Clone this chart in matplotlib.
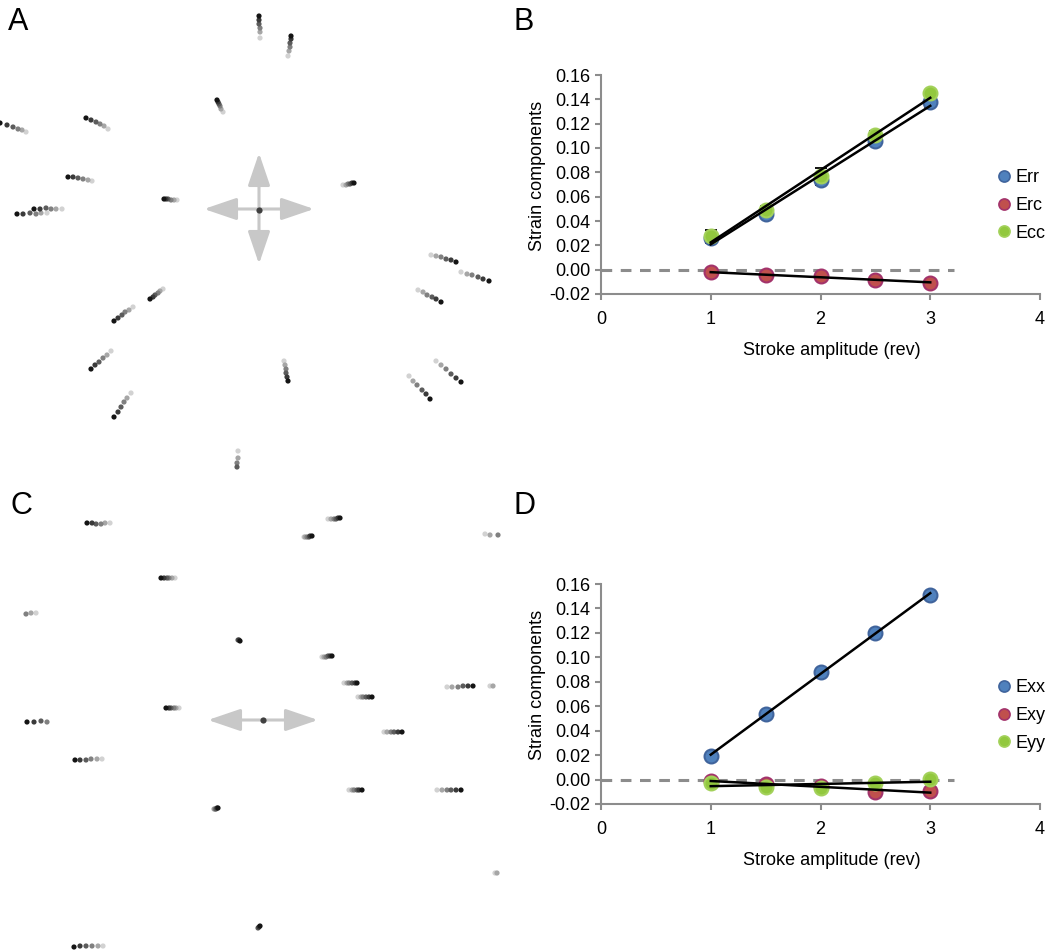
import matplotlib
matplotlib.use('Agg')
import matplotlib.pyplot as plt
import numpy as np
from matplotlib.lines import Line2D
from matplotlib.patches import FancyArrowPatch

plt.rcParams['font.family'] = ['Liberation Sans', 'DejaVu Sans']

# ---- panel B / D data ----
amp = [1.0, 1.5, 2.0, 2.5, 3.0]

err_b = [0.026, 0.0454, 0.0733, 0.106, 0.138]
erc_b = [-0.0022, -0.0047, -0.0052, -0.0082, -0.0109]
ecc_b = [0.0276, 0.0487, 0.0769, 0.111, 0.145]
err_b_sd = [0.004, 0.003, 0.004, 0.003, 0.0045]
ecc_b_sd = [0.005, 0.004, 0.007, 0.003, 0.003]

exx_d = [0.0191, 0.0535, 0.0884, 0.1203, 0.1509]
exy_d = [-0.0008, -0.004, -0.005, -0.0104, -0.0095]
eyy_d = [-0.0027, -0.0057, -0.0071, -0.003, 0.0005]

labels_b = ['Err', 'Erc', 'Ecc']
labels_d = ['Exx', 'Exy', 'Eyy']

# bead tracks (image pixels), darkest dot first
tracks_a = [
    ([259, 259, 259, 260, 260, 260], [16, 20, 24, 28, 32, 38]),
    ([291, 291, 290, 290, 289, 288], [36, 39, 43, 47, 51, 56]),
    ([217, 218, 219, 220, 221, 223], [100, 102, 104, 106, 109, 112]),
    ([0, 7, 13, 18, 22, 26], [123, 125, 127, 129, 130, 132]),
    ([86, 91, 96, 100, 104, 108], [118, 120, 122, 124, 126, 129]),
    ([68, 73, 78, 83, 88, 92], [177, 177, 178, 179, 180, 181]),
    ([17, 23, 30, 36, 41, 47], [214, 214, 213, 214, 213, 213]),
    ([34, 40, 46, 51, 56, 62], [209, 209, 208, 209, 209, 209]),
    ([164, 166, 168, 171, 174, 177], [199, 199, 199, 200, 200, 200]),
    ([354, 352, 350, 348, 346, 343], [183, 183, 184, 184, 185, 185]),
    ([456, 451, 446, 441, 436, 431], [262, 260, 259, 257, 256, 255]),
    ([489, 483, 478, 472, 467, 461], [281, 279, 277, 275, 274, 272]),
    ([441, 436, 432, 427, 423, 418], [302, 299, 297, 295, 292, 290]),
    ([150, 153, 155, 158, 160, 163], [299, 297, 295, 293, 291, 289]),
    ([114, 118, 122, 125, 129, 133], [321, 318, 315, 312, 310, 307]),
    ([91, 95, 99, 103, 107, 111], [369, 365, 362, 358, 355, 351]),
    ([114, 118, 121, 124, 127, 131], [417, 412, 407, 402, 398, 393]),
    ([288, 287, 286, 286, 285, 284], [381, 377, 373, 369, 365, 361]),
    ([461, 456, 451, 446, 441, 436], [382, 378, 374, 369, 365, 361]),
    ([430, 426, 422, 417, 413, 409], [399, 394, 390, 385, 381, 376]),
    ([237, 237, 238, 238], [467, 463, 458, 451]),
]
tracks_c = [
    ([87, 92, 96, 101, 105, 110], [523, 523, 524, 524, 523, 523]),
    ([340, 338, 336, 334, 331, 328], [518, 518, 519, 519, 519, 519]),
    ([312, 310, 309, 307, 305, 304], [536, 536, 537, 537, 537, 537]),
    ([498, 490, 485], [535, 535, 534]),
    ([161, 164, 167, 169, 172, 175], [578, 578, 578, 578, 578, 578]),
    ([26, 31, 36], [614, 613, 613]),
    ([240, 239, 238], [641, 640, 640]),
    ([332, 330, 328, 326, 324, 322], [656, 656, 656, 657, 657, 657]),
    ([357, 355, 352, 349, 347, 344], [683, 683, 683, 683, 683, 683]),
    ([372, 369, 366, 363, 361, 358], [697, 697, 697, 697, 697, 697]),
    ([473, 468, 463, 458, 452, 447], [686, 686, 686, 687, 687, 687]),
    ([493, 490], [686, 686]),
    ([166, 169, 171, 174, 176, 179], [708, 708, 708, 708, 708, 708]),
    ([27, 34, 41, 47], [722, 722, 721, 722]),
    ([402, 398, 394, 391, 387, 384], [732, 732, 732, 732, 732, 732]),
    ([75, 80, 86, 91, 97, 102], [760, 760, 760, 759, 759, 759]),
    ([362, 359, 357, 354, 352, 349], [790, 790, 790, 790, 790, 790]),
    ([461, 456, 451, 447, 442, 437], [790, 790, 790, 790, 790, 790]),
    ([218, 217, 216, 215, 214], [808, 808, 809, 809, 809]),
    ([497, 495], [873, 873]),
    ([260, 259, 258], [926, 927, 928]),
    ([74, 80, 86, 92, 98, 103], [947, 946, 946, 946, 946, 946]),
]
shades = ['#141414', '#3a3a3a', '#5c5c5c', '#808080', '#a6a6a6', '#d2d2d2']
light_tracks = {(0, 20), (1, 3), (1, 5), (1, 11), (1, 19)}

fig = plt.figure(figsize=(10.5, 9.5), dpi=100)

# ---- panels A and C: bead displacement tracks ----
img = fig.add_axes([0, 0, 520 / 1050, 1])
img.set_xlim(0, 520)
img.set_ylim(950, 0)
img.axis('off')

for p, trks in enumerate([tracks_a, tracks_c]):
    for k, (xs, ys) in enumerate(trks):
        n = len(xs)
        cols = shades[-n:] if (p, k) in light_tracks else shades[:n]
        # lightest drawn first so the dark end sits on top
        img.scatter(xs[::-1], ys[::-1], s=14, c=cols[::-1], linewidths=0, zorder=3)

arrow_col = '#c8c8c8'
style = '<|-|>,head_length=1.0,head_width=0.34'
for (x0, y0, x1, y1) in [(204, 209, 314, 209), (259, 153, 259, 264),
                         (208, 720, 318, 720)]:
    img.add_patch(FancyArrowPatch((x0, y0), (x1, y1), arrowstyle=style,
                                  mutation_scale=20, color=arrow_col, lw=2.2,
                                  shrinkA=0, shrinkB=0, zorder=2))
img.scatter([259, 263], [210, 720], s=20, c='#404040', linewidths=0, zorder=4)

# ---- panels B and D: strain components ----
fills = ['#4f81bd', '#c0504d', '#92c83e']
edges = ['#40649c', '#a3336b', '#a3d15a']


def strain_panel(rect, series, names, sds, leg_top):
    ax = fig.add_axes(rect)
    ax.axhline(0, xmin=0, xmax=3.22 / 4, color='#8c8c8c', lw=2.2,
               ls=(0, (3.5, 2.8)), zorder=1)
    for i, ys in enumerate(series):
        if sds[i] is not None:
            ax.errorbar(amp, ys, yerr=sds[i], fmt='none', ecolor='black',
                        elinewidth=1.3, capsize=4, capthick=1.3, zorder=2)
    for i, ys in enumerate(series):
        ax.plot(amp, ys, 'o', ms=10, mfc=fills[i], mec=edges[i], mew=1.5,
                zorder=3)
    for ys in series:
        k, b = np.polyfit(amp, ys, 1)
        ax.plot([amp[0], amp[-1]], [k * amp[0] + b, k * amp[-1] + b],
                color='black', lw=1.8, zorder=4)
    ax.set_xlim(0, 4)
    ax.set_ylim(-0.02, 0.16)
    ax.set_xticks([0, 1, 2, 3, 4])
    ax.set_yticks(np.arange(-0.02, 0.161, 0.02))
    ax.set_yticklabels(['%.2f' % v for v in np.arange(-0.02, 0.161, 0.02)])
    for s in ['top', 'right']:
        ax.spines[s].set_visible(False)
    for s in ['left', 'bottom']:
        ax.spines[s].set_color('#8c8c8c')
        ax.spines[s].set_linewidth(1.5)
    ax.tick_params(axis='both', colors='#8c8c8c', labelcolor='black',
                   labelsize=13, width=1.5, length=4)
    ax.tick_params(axis='x', pad=8)
    ax.set_xlabel('Stroke amplitude (rev)', fontsize=13)
    ax.set_ylabel('Strain components', fontsize=13)
    ax.xaxis.set_label_coords(0.526, -0.22)
    ax.yaxis.set_label_coords(-0.125, 0.54)
    handles = [Line2D([], [], ls='', marker='o', ms=8, mfc=fills[i],
                      mec=edges[i], mew=1.2) for i in range(3)]
    ax.legend(handles, names, loc='upper left', frameon=False,
              bbox_to_anchor=(997 / 1050, 1 - leg_top / 950),
              bbox_transform=fig.transFigure, fontsize=13, handlelength=0.8,
              handletextpad=0.25, labelspacing=0.6, borderaxespad=0,
              borderpad=0)
    return ax


strain_panel([601 / 1050, 1 - 294 / 950, 439 / 1050, 219 / 950],
             [err_b, erc_b, ecc_b], labels_b, [err_b_sd, None, ecc_b_sd], 169)
strain_panel([601 / 1050, 1 - 804 / 950, 439 / 1050, 220 / 950],
             [exx_d, exy_d, eyy_d], labels_d, [None, None, None], 679)

for lab, x, y in [('A', 8, 7), ('B', 513, 7), ('C', 10, 491), ('D', 513, 491)]:
    fig.text(x / 1050, 1 - y / 950, lab, fontsize=22, va='top', ha='left')

fig.savefig('out.png', dpi=100)
